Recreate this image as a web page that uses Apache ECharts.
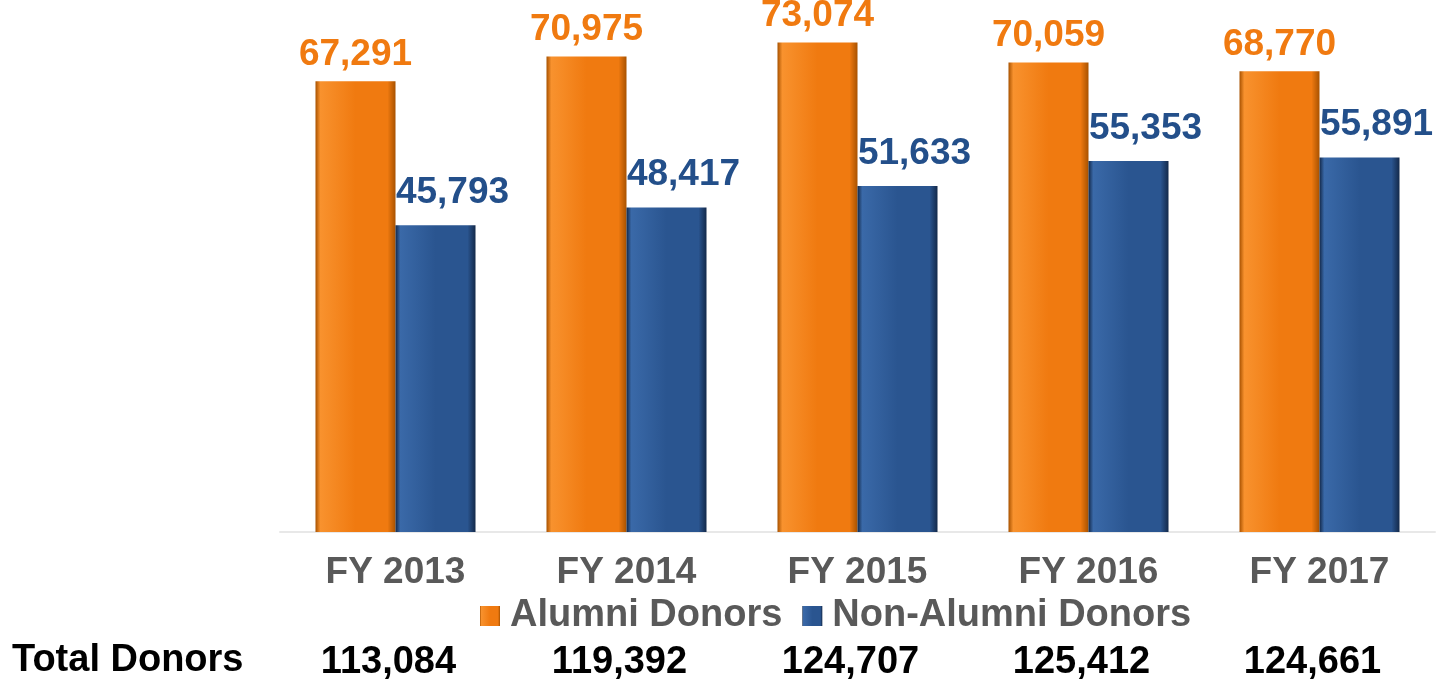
<!DOCTYPE html>
<html>
<head>
<meta charset="utf-8">
<script src="https://cdn.jsdelivr.net/npm/echarts@6/dist/echarts.min.js"></script>
<style>
  html, body { margin: 0; padding: 0; background: #fff; }
  #chart { width: 1437px; height: 683px; }
</style>
</head>
<body>
<div id="chart"></div>
<script>
// ── Data ──────────────────────────────────────────────
const years = ['FY 2013', 'FY 2014', 'FY 2015', 'FY 2016', 'FY 2017'];
const alumni = [67291, 70975, 73074, 70059, 68770];
const nonAlumni = [45793, 48417, 51633, 55353, 55891];
const totals = [113084, 119392, 124707, 125412, 124661];

// ── Style ─────────────────────────────────────────────
const FONT = '"Liberation Sans", Arial, sans-serif';
const fmt = v => v.toLocaleString('en-US');

// horizontal gradient gives the bevelled look of the original bars
function bevel(light, mid, dark) {
  return new echarts.graphic.LinearGradient(0, 0, 1, 0, [
    { offset: 0, color: dark },
    { offset: 0.06, color: light },
    { offset: 0.5, color: mid },
    { offset: 0.9, color: mid },
    { offset: 1, color: dark },
  ]);
}

const chart = echarts.init(document.getElementById('chart'), null, { renderer: 'canvas' });

chart.setOption({
  animation: false,
  textStyle: { fontFamily: FONT },
  grid: { left: 280, right: 2, top: 0, bottom: 151, containLabel: false },
  legend: {
    left: 475,
    top: 592,
    itemWidth: 20,
    itemHeight: 20,
    itemGap: 20,
    icon: 'rect',
    textStyle: { fontFamily: FONT, fontSize: 38, fontWeight: 'bold', color: '#595959', padding: [0, 0, 0, 5] },
    data: ['Alumni Donors', 'Non-Alumni Donors'],
  },
  xAxis: [
    {
      type: 'category',
      data: years,
      axisLine: { lineStyle: { color: '#e8e8e8', width: 2 } },
      axisTick: { show: false },
      axisLabel: { fontFamily: FONT, fontSize: 37, fontWeight: 'bold', color: '#595959', margin: 22 },
    },
    {
      type: 'category',
      position: 'bottom',
      offset: 100,
      data: totals.map(fmt),
      axisLine: { show: false },
      axisTick: { show: false },
      axisLabel: {
        fontFamily: FONT, fontSize: 38, fontWeight: 'bold', color: '#000', margin: 12,
        padding: [0, 14, 0, 0],
      },
    },
  ],
  yAxis: { type: 'value', min: 0, max: 79400, show: false, splitLine: { show: false } },
  graphic: [{
    type: 'text', left: 12, top: 642,
    style: { text: 'Total Donors', font: 'bold 38px ' + FONT, fill: '#000' },
  }],
  series: [
    {
      name: 'Alumni Donors',
      type: 'bar',
      data: alumni,
      barWidth: 80,
      barGap: '0%',
      itemStyle: { color: bevel('#f8922e', '#f07a10', '#a85200') },
      label: {
        show: true, position: 'top', distance: 8,
        formatter: p => fmt(p.value),
        fontFamily: FONT, fontSize: 37, fontWeight: 'bold', color: '#f07a10',
      },
    },
    {
      name: 'Non-Alumni Donors',
      type: 'bar',
      data: nonAlumni,
      barWidth: 80,
      itemStyle: { color: bevel('#3a69a8', '#2a5590', '#13294a') },
      label: {
        show: true, position: 'top', distance: 14, offset: [17, 0],
        formatter: p => fmt(p.value),
        fontFamily: FONT, fontSize: 37, fontWeight: 'bold', color: '#234f8a',
      },
    },
  ],
});
</script>
</body>
</html>
